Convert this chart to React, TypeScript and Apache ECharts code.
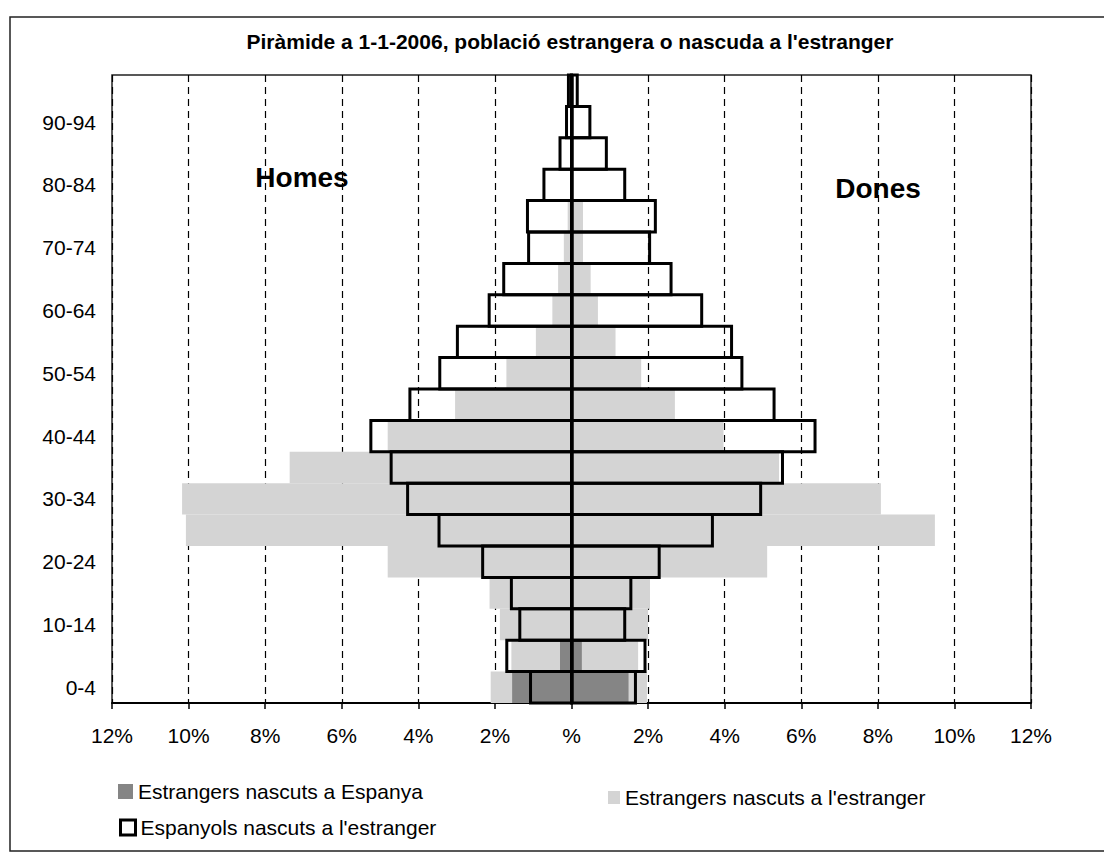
import React, { useEffect, useRef } from "react";
import * as echarts from "echarts";

const ages = ["0-4", "5-9", "10-14", "15-19", "20-24", "25-29", "30-34", "35-39", "40-44", "45-49", "50-54", "55-59", "60-64", "65-69", "70-74", "75-79", "80-84", "85-89", "90-94", "95+"];

// Estrangers nascuts a l'estranger: outer extent of the grey bars (%)
const homesNascutsEstranger = [2.11, 1.57, 1.87, 2.14, 4.8, 10.07, 10.17, 7.36, 4.8, 3.04, 1.7, 0.93, 0.5, 0.35, 0.2, 0.1, 0, 0, 0, 0];
const donesNascutsEstranger = [1.97, 1.74, 2.0, 2.05, 5.11, 9.49, 8.08, 5.42, 3.97, 2.7, 1.82, 1.15, 0.69, 0.5, 0.3, 0.3, 0, 0, 0, 0];

// Estrangers nascuts a Espanya (%), drawn over the grey bars
const homesNascutsEspanya = [1.55, 0.3, 0, 0, 0, 0, 0, 0, 0, 0, 0, 0, 0, 0, 0, 0, 0, 0, 0, 0];
const donesNascutsEspanya = [1.49, 0.27, 0, 0, 0, 0, 0, 0, 0, 0, 0, 0, 0, 0, 0, 0, 0, 0, 0, 0];

// Espanyols nascuts a l'estranger (%)
const homesEspanyols = [1.07, 1.69, 1.35, 1.57, 2.32, 3.46, 4.28, 4.71, 5.24, 4.22, 3.44, 2.98, 2.15, 1.77, 1.12, 1.15, 0.72, 0.3, 0.13, 0.08];
const donesEspanyols = [1.67, 1.92, 1.39, 1.55, 2.29, 3.68, 4.94, 5.51, 6.36, 5.29, 4.45, 4.18, 3.4, 2.6, 2.04, 2.19, 1.39, 0.91, 0.48, 0.15];

const NAME_DARK = "Estrangers nascuts a Espanya";
const NAME_LIGHT = "Estrangers nascuts a l'estranger";
const NAME_BOX = "Espanyols nascuts a l'estranger";

const FONT = "'Liberation Sans', Arial, sans-serif";
const DARK = "#858585";
const LIGHT = "#d4d4d4";

export default function App() {
  const ref = useRef<HTMLDivElement>(null);
  useEffect(() => {
    if (!ref.current) return;
    const chart = echarts.init(ref.current, undefined, { renderer: "svg" });
    const neg = (a: number[]) => a.map((v) => -v);
    const common = {
      type: "bar" as const,
      barCategoryGap: "0%",
      barGap: "-100%",
      emphasis: { disabled: true },
    };
    const renderBox = (_params: any, api: any) => {
      const v = api.value(0);
      const idx = api.value(1);
      const p0 = api.coord([0, idx]);
      const p1 = api.coord([v, idx]);
      const h = api.size([0, 1])[1];
      return {
        type: "rect",
        shape: {
          x: Math.min(p0[0], p1[0]),
          y: p0[1] - h / 2,
          width: Math.abs(p1[0] - p0[0]),
          height: h,
        },
        style: { fill: "none", stroke: "#000", lineWidth: 3 },
      };
    };
    const boxSeries = (vals: number[], sign: number) => ({
      type: "custom" as const,
      name: NAME_BOX,
      z: 4,
      renderItem: renderBox,
      encode: { x: 0, y: 1 },
      itemStyle: { color: "#fff", borderColor: "#000", borderWidth: 3 },
      data: vals.map((v, i) => [sign * v, i]),
      silent: true,
    });
    chart.setOption({
      animation: false,
      backgroundColor: "#fff",
      textStyle: { fontFamily: FONT },
      title: {
        text: "Piràmide a 1-1-2006, població estrangera o nascuda a l'estranger",
        left: 565,
        textAlign: "center",
        top: 26,
        textStyle: { fontSize: 21, fontWeight: "bold", color: "#000", fontFamily: FONT },
      },
      grid: {
        left: 112,
        right: 73,
        top: 75,
        bottom: 158,
        show: true,
        borderColor: "#222",
        borderWidth: 1.5,
        backgroundColor: "transparent",
      },
      xAxis: {
        type: "value",
        min: -12,
        max: 12,
        interval: 2,
        axisLine: { show: true, onZero: false, lineStyle: { color: "#000", width: 2 } },
        axisTick: { show: true, length: 6, lineStyle: { color: "#000", width: 1.5 } },
        axisLabel: {
          fontSize: 21,
          color: "#000",
          margin: 22,
          fontFamily: FONT,
          formatter: (v: number) => (v === 0 ? "%" : Math.abs(v) + "%"),
        },
        splitLine: { show: true, lineStyle: { color: "#000", width: 1.2, type: [7, 5] } },
      },
      yAxis: {
        type: "category",
        data: ages,
        axisLine: { show: false },
        axisTick: { show: false },
        axisLabel: { interval: 1, fontSize: 21, color: "#000", margin: 16, fontFamily: FONT },
        splitLine: { show: false },
      },
      legend: [
        {
          data: [NAME_DARK],
          left: 113,
          top: 776,
          itemWidth: 15,
          itemHeight: 15,
          icon: "rect",
          selectedMode: false,
          textStyle: { fontSize: 21, color: "#000", fontFamily: FONT },
        },
        {
          data: [NAME_LIGHT],
          left: 603,
          top: 782,
          itemWidth: 12,
          itemHeight: 13,
          icon: "rect",
          selectedMode: false,
          textStyle: { fontSize: 21, color: "#000", fontFamily: FONT },
        },
        {
          data: [
            {
              name: NAME_BOX,
              icon: "rect",
              itemStyle: { color: "#fff", borderColor: "#000", borderWidth: 3 },
            },
          ],
          left: 114,
          top: 812,
          itemWidth: 15,
          itemHeight: 15,
          icon: "rect",
          selectedMode: false,
          textStyle: { fontSize: 21, color: "#000", fontFamily: FONT },
        },
      ],
      graphic: [
        {
          type: "rect",
          shape: { x: 10, y: 17, width: 1120, height: 834 },
          style: { fill: "none", stroke: "#222", lineWidth: 1.5 },
          silent: true,
        },
        {
          type: "text",
          x: 302,
          y: 177,
          style: {
            text: "Homes",
            fontSize: 28,
            fontWeight: "bold",
            fontFamily: FONT,
            fill: "#000",
            align: "center",
            verticalAlign: "middle",
          },
        },
        {
          type: "text",
          x: 878,
          y: 188,
          style: {
            text: "Dones",
            fontSize: 28,
            fontWeight: "bold",
            fontFamily: FONT,
            fill: "#000",
            align: "center",
            verticalAlign: "middle",
          },
        },
      ],
      series: [
        { ...common, name: NAME_LIGHT, z: 2, data: neg(homesNascutsEstranger), itemStyle: { color: LIGHT } },
        { ...common, name: NAME_LIGHT, z: 2, data: donesNascutsEstranger, itemStyle: { color: LIGHT } },
        { ...common, name: NAME_DARK, z: 3, data: neg(homesNascutsEspanya), itemStyle: { color: DARK } },
        { ...common, name: NAME_DARK, z: 3, data: donesNascutsEspanya, itemStyle: { color: DARK } },
        boxSeries(homesEspanyols, -1),
        {
          ...boxSeries(donesEspanyols, 1),
          markLine: {
            silent: true,
            symbol: ["none", "none"],
            label: { show: false },
            lineStyle: { color: "#000", width: 3.5, type: "solid" },
            data: [{ xAxis: 0 }],
          },
        },
      ],
    });
    return () => chart.dispose();
  }, []);
  return (
    <div
      ref={ref}
      style={{ position: "fixed", left: 0, top: 0, width: 1104, height: 861, background: "#fff" }}
    />
  );
}
